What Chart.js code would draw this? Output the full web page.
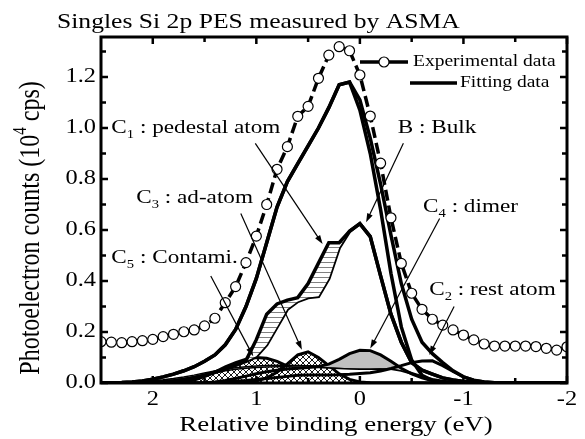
<!DOCTYPE html>
<html>
<head>
<meta charset="utf-8">
<title>Singles Si 2p PES</title>
<script src="https://cdn.jsdelivr.net/npm/chart.js@4.4.0/dist/chart.umd.min.js"></script>
<style>
  html, body { margin: 0; padding: 0; background: #fff; }
  #wrap { width: 585px; height: 439px; }
</style>
</head>
<body>
<div id="wrap"><canvas id="chart" width="585" height="439"></canvas></div>
<script>
// relative binding energy grid (eV), shared by every curve
const energy = [2.5, 2.4, 2.3, 2.2, 2.1, 2.0, 1.9, 1.8, 1.7, 1.6,
  1.5, 1.4, 1.3, 1.2, 1.1, 1.0, 0.9, 0.8, 0.7, 0.6,
  0.5, 0.4, 0.3, 0.2, 0.1, 0.0, -0.1, -0.2, -0.3, -0.4,
  -0.5, -0.6, -0.7, -0.8, -0.9, -1.0, -1.1, -1.2, -1.3, -1.4,
  -1.5, -1.6, -1.7, -1.8, -1.9, -2.0];

const experimental = [0.162, 0.160, 0.158, 0.162, 0.166, 0.171, 0.182, 0.191, 0.201, 0.208,
  0.224, 0.254, 0.315, 0.378, 0.472, 0.576, 0.700, 0.838, 0.927, 1.046,
  1.085, 1.195, 1.286, 1.319, 1.303, 1.208, 1.047, 0.862, 0.648, 0.469,
  0.352, 0.289, 0.250, 0.227, 0.208, 0.188, 0.169, 0.153, 0.145, 0.145,
  0.145, 0.145, 0.143, 0.136, 0.129, 0.142];

const fitTotal = [0.000, 0.001, 0.002, 0.004, 0.008, 0.015, 0.024, 0.035, 0.048, 0.064,
  0.085, 0.110, 0.150, 0.210, 0.300, 0.410, 0.550, 0.690, 0.790, 0.860,
  0.930, 1.000, 1.080, 1.170, 1.180, 1.110, 0.960, 0.780, 0.580, 0.390,
  0.250, 0.160, 0.115, 0.080, 0.048, 0.024, 0.010, 0.004, 0.001, 0,
  0, 0, 0, 0, 0, 0];

const fitInner = [0.000, 0.001, 0.002, 0.004, 0.008, 0.015, 0.024, 0.035, 0.048, 0.064,
  0.085, 0.110, 0.150, 0.210, 0.300, 0.410, 0.550, 0.690, 0.790, 0.860,
  0.930, 1.000, 1.080, 1.170, 1.180, 1.070, 0.900, 0.680, 0.430, 0.220,
  0.090, 0.030, 0.010, 0.003, 0, 0, 0, 0, 0, 0,
  0, 0, 0, 0, 0, 0];

// bulk: upper and lower paths, the pedestal (C1) band is hatched between them
const bulkUpper = [0, 0, 0, 0.001, 0.002, 0.003, 0.005, 0.008, 0.013, 0.020,
  0.030, 0.042, 0.055, 0.070, 0.088, 0.170, 0.270, 0.310, 0.325, 0.335,
  0.390, 0.470, 0.550, 0.550, 0.595, 0.625, 0.574, 0.420, 0.270, 0.160,
  0.080, 0.050, 0.035, 0.020, 0.012, 0.006, 0.003, 0.001, 0, 0,
  0, 0, 0, 0, 0, 0];

const bulkLower = [0, 0, 0, 0.001, 0.002, 0.003, 0.005, 0.008, 0.013, 0.020,
  0.030, 0.042, 0.055, 0.070, 0.085, 0.105, 0.150, 0.220, 0.290, 0.320,
  0.335, 0.340, 0.410, 0.530, 0.595, 0.625, 0.574, 0.420, 0.270, 0.160,
  0.080, 0.050, 0.035, 0.020, 0.012, 0.006, 0.003, 0.001, 0, 0,
  0, 0, 0, 0, 0, 0];

const restAtom = [0, 0, 0, 0, 0, 0, 0, 0, 0, 0,
  0, 0.002, 0.004, 0.007, 0.010, 0.014, 0.018, 0.022, 0.026, 0.030,
  0.031, 0.031, 0.031, 0.032, 0.034, 0.037, 0.040, 0.047, 0.057, 0.068,
  0.080, 0.086, 0.087, 0.068, 0.045, 0.025, 0.012, 0.005, 0.002, 0,
  0, 0, 0, 0, 0, 0];

const dimer = [0, 0, 0, 0, 0, 0, 0, 0, 0, 0,
  0, 0.004, 0.010, 0.018, 0.027, 0.036, 0.044, 0.050, 0.055, 0.058,
  0.061, 0.065, 0.074, 0.093, 0.115, 0.128, 0.127, 0.110, 0.085, 0.058,
  0.036, 0.020, 0.009, 0.003, 0.001, 0, 0, 0, 0, 0,
  0, 0, 0, 0, 0, 0];

const dimerBase = [0, 0, 0, 0.001, 0.003, 0.006, 0.010, 0.015, 0.021, 0.028,
  0.036, 0.044, 0.051, 0.057, 0.061, 0.064, 0.066, 0.067, 0.067, 0.066,
  0.065, 0.064, 0.062, 0.060, 0.058, 0.057, 0.057, 0.058, 0.057, 0.050,
  0.038, 0.025, 0.014, 0.007, 0.003, 0.001, 0, 0, 0, 0,
  0, 0, 0, 0, 0, 0];

const adAtom = [0, 0, 0, 0, 0, 0, 0, 0, 0, 0,
  0, 0, 0, 0, 0.003, 0.008, 0.020, 0.042, 0.075, 0.110,
  0.122, 0.100, 0.068, 0.036, 0.014, 0.004, 0.001, 0, 0, 0,
  0, 0, 0, 0, 0, 0, 0, 0, 0, 0,
  0, 0, 0, 0, 0, 0];

const contami = [0, 0, 0, 0, 0, 0, 0, 0, 0.005, 0.012,
  0.025, 0.043, 0.063, 0.080, 0.093, 0.100, 0.097, 0.085, 0.066, 0.046,
  0.028, 0.015, 0.007, 0.003, 0.001, 0, 0, 0, 0, 0,
  0, 0, 0, 0, 0, 0, 0, 0, 0, 0,
  0, 0, 0, 0, 0, 0];

const xTicks = [2, 1, 0, -1, -2];
const xTickLabels = ['2', '1', '0', '-1', '-2'];
const xMinor = [1.5, 0.5, -0.5, -1.5];
const yTicks = [0, 0.2, 0.4, 0.6, 0.8, 1.0, 1.2];
const yTickLabels = ['0.0', '0.2', '0.4', '0.6', '0.8', '1.0', '1.2'];
const yMinor = [0.1, 0.3, 0.5, 0.7, 0.9, 1.1, 1.3];

// labels with arrows, positions in data units (eV, counts)
const notes = [
  { main: 'C', sub: '1', rest: ' : pedestal atom', at: [2.40, 1.00], from: [1.01, 0.94], to: [0.36, 0.545] },
  { main: 'C', sub: '3', rest: ' : ad-atom', at: [2.16, 0.725], from: [1.15, 0.665], to: [0.56, 0.13] },
  { main: 'C', sub: '5', rest: ' : Contami.', at: [2.40, 0.49], from: [1.44, 0.42], to: [1.03, 0.105] },
  { main: 'B', sub: '', rest: ' : Bulk', at: [-0.365, 1.0], from: [-0.42, 0.94], to: [-0.06, 0.63] },
  { main: 'C', sub: '4', rest: ' : dimer', at: [-0.61, 0.69], from: [-0.77, 0.645], to: [-0.10, 0.135] },
  { main: 'C', sub: '2', rest: ' : rest atom', at: [-0.67, 0.365], from: [-0.91, 0.30], to: [-0.67, 0.11] }
];

const serif = '"Liberation Serif", "Times New Roman", Times, serif';
const SX = 1.22; // the original figure's lettering is wider than it is tall

function pts(arr) {
  return energy.map((e, i) => ({ x: e, y: arr[i] }));
}

function hatchLines() {
  const c = document.createElement('canvas');
  c.width = 8; c.height = 5;
  const g = c.getContext('2d');
  g.fillStyle = '#fff';
  g.fillRect(0, 0, 8, 5);
  g.fillStyle = '#808080';
  g.fillRect(0, 2, 8, 1);
  return g.createPattern(c, 'repeat');
}

function hatchCross() {
  const c = document.createElement('canvas');
  c.width = 6; c.height = 6;
  const g = c.getContext('2d');
  g.fillStyle = '#fff';
  g.fillRect(0, 0, 6, 6);
  g.strokeStyle = '#000';
  g.lineWidth = 0.9;
  g.beginPath();
  g.moveTo(0, 0); g.lineTo(6, 6);
  g.moveTo(6, 0); g.lineTo(0, 6);
  g.stroke();
  return g.createPattern(c, 'repeat');
}

function line(label, arr, width, extra) {
  return Object.assign({
    label: label,
    data: pts(arr),
    borderColor: '#000',
    borderWidth: width,
    pointRadius: 0,
    fill: false,
    tension: 0
  }, extra || {});
}

// stretched text; returns drawn width
function txt(ctx, s, x, y, size) {
  ctx.font = size + 'px ' + serif;
  ctx.save();
  ctx.translate(x, y);
  ctx.scale(SX, 1);
  ctx.fillText(s, 0, 0);
  ctx.restore();
  return ctx.measureText(s).width * SX;
}

function drawLabel(ctx, n, px, py) {
  ctx.textAlign = 'left';
  ctx.textBaseline = 'middle';
  let cx = px;
  cx += txt(ctx, n.main, cx, py, 19);
  if (n.sub) cx += txt(ctx, n.sub, cx, py + 7, 12);
  txt(ctx, n.rest, cx, py, 19);
}

function arrow(ctx, x1, y1, x2, y2) {
  const ang = Math.atan2(y2 - y1, x2 - x1);
  const len = 9, half = 3;
  ctx.lineWidth = 1.2;
  ctx.beginPath();
  ctx.moveTo(x1, y1);
  ctx.lineTo(x2 - Math.cos(ang) * len * 0.8, y2 - Math.sin(ang) * len * 0.8);
  ctx.stroke();
  ctx.beginPath();
  ctx.moveTo(x2, y2);
  ctx.lineTo(x2 - Math.cos(ang) * len - Math.sin(ang) * half, y2 - Math.sin(ang) * len + Math.cos(ang) * half);
  ctx.lineTo(x2 - Math.cos(ang) * len + Math.sin(ang) * half, y2 - Math.sin(ang) * len - Math.cos(ang) * half);
  ctx.closePath();
  ctx.fill();
}

const decor = {
  id: 'decor',
  afterDraw(chart) {
    const ctx = chart.ctx;
    const a = chart.chartArea;
    const x = chart.scales.x, y = chart.scales.y;
    ctx.save();
    ctx.strokeStyle = '#000';
    ctx.fillStyle = '#000';

    // inward ticks on all four sides
    ctx.lineWidth = 2.5;
    ctx.beginPath();
    const tx = (v, l) => {
      const p = x.getPixelForValue(v);
      ctx.moveTo(p, a.bottom); ctx.lineTo(p, a.bottom - l);
      ctx.moveTo(p, a.top); ctx.lineTo(p, a.top + l);
    };
    const ty = (v, l) => {
      const p = y.getPixelForValue(v);
      ctx.moveTo(a.left, p); ctx.lineTo(a.left + l, p);
      ctx.moveTo(a.right, p); ctx.lineTo(a.right - l, p);
    };
    xTicks.forEach(v => tx(v, 7));
    xMinor.forEach(v => tx(v, 5));
    yTicks.forEach(v => ty(v, 7));
    yMinor.forEach(v => ty(v, 5));
    ctx.stroke();

    ctx.lineWidth = 3;
    ctx.strokeRect(a.left, a.top, a.right - a.left, a.bottom - a.top);

    // tick labels
    ctx.textAlign = 'center';
    ctx.textBaseline = 'middle';
    xTicks.forEach((v, i) => txt(ctx, xTickLabels[i], x.getPixelForValue(v), a.bottom + 17, 20));
    ctx.textAlign = 'right';
    yTicks.forEach((v, i) => txt(ctx, yTickLabels[i], a.left - 5, y.getPixelForValue(v), 20));

    // axis titles
    ctx.textAlign = 'center';
    txt(ctx, 'Relative binding energy (eV)', (a.left + a.right) / 2 + 2, a.bottom + 42, 22);

    ctx.save();
    ctx.translate(31, 228);
    ctx.rotate(-Math.PI / 2);
    ctx.scale(1, SX);
    const p1 = 'Photoelectron counts (10', p2 = '4', p3 = ' cps)';
    ctx.font = '24px ' + serif;
    const w1 = ctx.measureText(p1).width, w3 = ctx.measureText(p3).width;
    ctx.font = '15px ' + serif;
    const w2 = ctx.measureText(p2).width;
    const sx = -(w1 + w2 + w3) / 2;
    ctx.textAlign = 'left';
    ctx.font = '24px ' + serif;
    ctx.fillText(p1, sx, 0);
    ctx.font = '15px ' + serif;
    ctx.fillText(p2, sx + w1, -8);
    ctx.font = '24px ' + serif;
    ctx.fillText(p3, sx + w1 + w2, 0);
    ctx.restore();

    // title
    ctx.textAlign = 'left';
    ctx.textBaseline = 'alphabetic';
    txt(ctx, 'Singles Si 2p PES measured by ASMA', a.left - 44, a.top - 9, 21);

    // legend
    const ly1 = a.top + 25, ly2 = a.top + 46;
    ctx.lineWidth = 3.5;
    ctx.beginPath();
    ctx.moveTo(a.right - 207, ly1); ctx.lineTo(a.right - 188, ly1);
    ctx.moveTo(a.right - 178, ly1); ctx.lineTo(a.right - 159, ly1);
    ctx.moveTo(a.right - 157, ly2); ctx.lineTo(a.right - 110, ly2);
    ctx.stroke();
    ctx.beginPath();
    ctx.arc(a.right - 183, ly1, 5, 0, Math.PI * 2);
    ctx.fillStyle = '#fff';
    ctx.fill();
    ctx.lineWidth = 1.2;
    ctx.stroke();
    ctx.fillStyle = '#000';
    ctx.textBaseline = 'middle';
    txt(ctx, 'Experimental data', a.right - 154, ly1, 16);
    txt(ctx, 'Fitting data', a.right - 107, ly2, 16);

    // component labels and arrows
    notes.forEach(n => {
      drawLabel(ctx, n, x.getPixelForValue(n.at[0]), y.getPixelForValue(n.at[1]));
      arrow(ctx, x.getPixelForValue(n.from[0]), y.getPixelForValue(n.from[1]),
        x.getPixelForValue(n.to[0]), y.getPixelForValue(n.to[1]));
    });
    ctx.restore();
  }
};

const hatch = hatchLines();
const cross = hatchCross();

const datasets = [
  line('Experimental data', experimental, 3.5, {
    borderDash: [11, 5],
    pointRadius: 5,
    pointBackgroundColor: '#fff',
    pointBorderColor: '#000',
    pointBorderWidth: 1.2
  }),
  line('Fitting data', fitTotal, 3.5),
  line('Fit without C2', fitInner, 3.5),
  line('Bulk + C1', bulkUpper, 3.5, { fill: 4, backgroundColor: hatch }),
  line('Bulk', bulkLower, 3.5),
  line('C2 rest atom', restAtom, 3),
  line('C4 dimer', dimer, 3, { fill: { target: 7, above: '#c0c0c0', below: 'rgba(0,0,0,0)' } }),
  line('C4 base', dimerBase, 3),
  line('C3 ad-atom', adAtom, 3, { fill: 'origin', backgroundColor: cross }),
  line('C5 contami.', contami, 3, { fill: 'origin', backgroundColor: cross })
];

new Chart(document.getElementById('chart'), {
  type: 'line',
  data: { datasets: datasets },
  options: {
    responsive: false,
    animation: false,
    layout: { padding: { left: 101, right: 18, top: 37, bottom: 56 } },
    scales: {
      x: { type: 'linear', reverse: true, min: -2, max: 2.5, display: false },
      y: { type: 'linear', min: 0, max: 1.357, display: false }
    },
    plugins: {
      legend: { display: false },
      tooltip: { enabled: false },
      title: { display: false }
    }
  },
  plugins: [decor]
});
</script>
</body>
</html>
